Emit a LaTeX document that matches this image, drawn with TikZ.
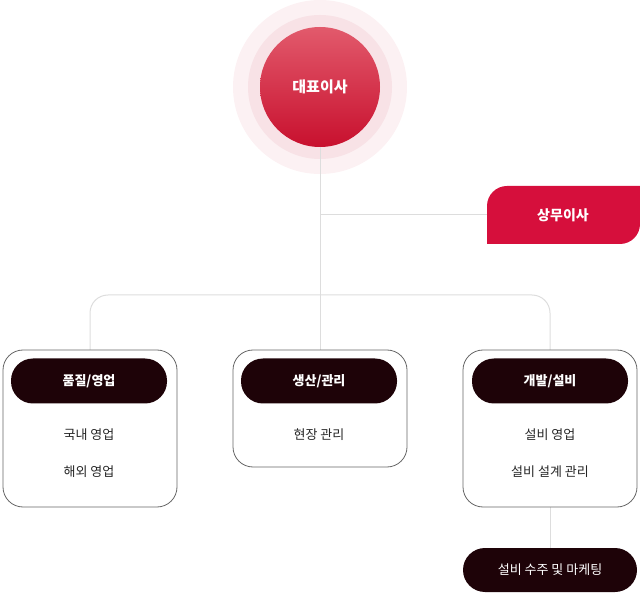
\documentclass[tikz,border=0pt]{standalone}
\usepackage{fontspec}
\setmainfont{Noto Sans CJK KR}
\usetikzlibrary{positioning}
\definecolor{ceored}{HTML}{C8102E}
\definecolor{ceotop}{HTML}{E25A6C}
\definecolor{subred}{HTML}{D60F3C}
\definecolor{darkpill}{HTML}{1E0308}
\definecolor{wire}{HTML}{DDDDDD}
\begin{document}
\begin{tikzpicture}[x=1pt,y=-1pt, line join=round,
    wire/.style={draw=wire, line width=1pt},
    dept/.style={draw=black!60, line width=0.8pt, rounded corners=20pt},
    head/.style={fill=darkpill, rounded corners=22pt, text=white, font=\fontsize{13}{15}\selectfont\bfseries, minimum width=156pt, minimum height=45pt, inner sep=0pt},
    item/.style={font=\fontsize{13}{15}\selectfont, text=black!85}]
    \useasboundingbox (0,0) rectangle (640,593);

    % CEO
    \fill[ceored!6] (320,87) circle (87);
    \fill[ceored!12] (320,87) circle (72);
    \shade[top color=ceotop, bottom color=ceored] (320,87) circle (60);
    \node[text=white, font=\fontsize{15}{17}\selectfont\bfseries] (ceo) at (320,87) {대표이사};
    \coordinate (ceob) at (320,147);

    % wires
    \coordinate (j1) at (320,215);
    \coordinate (j2) at (320,295);
    \draw[wire] (ceob) -- (j2);
    \draw[wire] (j1) -- (487,215);
    \draw[wire, rounded corners=18pt] (90,350) -- (90,295) -- (550,295) -- (550,350);
    \draw[wire] (j2) -- (320,350);
    \draw[wire] (550,507) -- (550,548);

    % managing director
    \fill[subred] (487,244) -- (487,206) arc (180:270:20) -- (640,186) -- (640,224) arc (0:90:20) -- cycle;
    \node[text=white, font=\fontsize{14}{16}\selectfont\bfseries] (md) at (563,215) {상무이사};

    % departments
    \draw[dept, fill=white] (3,350) rectangle (177,507);
    \draw[dept, fill=white] (233,350) rectangle (407,467);
    \draw[dept, fill=white] (463,350) rectangle (637,507);

    \node[head] (q) at (89,381) {품질/영업};
    \node[head] (p) at (319,381) {생산/관리};
    \node[head] (d) at (550,381) {개발/설비};

    \node[item] (q1) at (89,435) {국내 영업};
    \node[item] (q2) at (89,472) {해외 영업};
    \node[item] (p1) at (319,435) {현장 관리};
    \node[item] (d1) at (550,435) {설비 영업};
    \node[item] (d2) at (550,472) {설비 설계 관리};

    \node[head, minimum width=174pt, minimum height=44pt, font=\fontsize{13}{15}\selectfont] (mk) at (550,570) {설비 수주 및 마케팅};
\end{tikzpicture}
\end{document}
